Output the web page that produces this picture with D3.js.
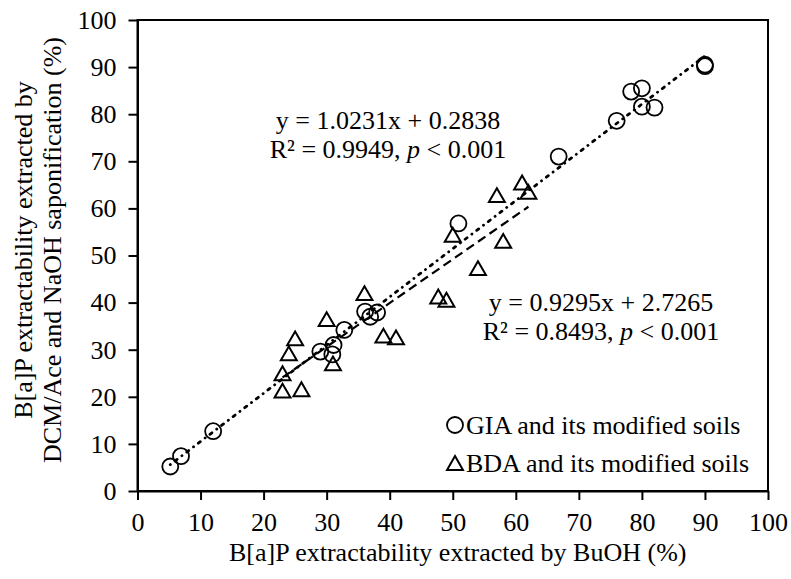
<!DOCTYPE html>
<html>
<head>
<meta charset="utf-8">
<script src="https://cdn.jsdelivr.net/npm/d3@7"></script>
<style>
  body { margin: 0; background: #fff; }
  svg { display: block; font-family: "Liberation Serif", "Times New Roman", serif; }
  .axis path, .axis line { stroke: #000; stroke-width: 2; }
  .axis text { font-size: 26px; fill: #000; font-family: "Liberation Serif", serif; }
  .label { font-size: 26px; fill: #000; }
</style>
</head>
<body>
<div id="wrapper"></div>
<script>
// data
const giaBuOH = [5.2, 6.9, 12, 29, 30.9, 31.1, 32.8, 36.1, 36.9, 38, 50.9, 66.8, 76, 78.3, 80, 80, 82, 90, 90];
const giaDCM = [5.2, 7.4, 12.7, 29.6, 29, 31, 34.2, 38.1, 37, 37.9, 56.8, 71, 78.6, 84.8, 85.5, 81.6, 81.4, 90.2, 90.5];
const bdaBuOH = [23, 23, 24, 25, 26, 30, 31, 36, 39, 41, 47.7, 49, 50, 54, 57, 58, 61, 62];
const bdaDCM = [21.3, 25, 29.2, 32.4, 21.6, 36.5, 27.1, 42, 33, 32.6, 41.3, 40.6, 54.4, 47.3, 62.8, 53.1, 65.5, 63.5];
const giaFit = [1.0231, 0.2838];
const bdaFit = [0.9295, 2.7265];
const ticks = [0, 10, 20, 30, 40, 50, 60, 70, 80, 90, 100];
const legendLabels = ['GIA and its modified soils', 'BDA and its modified soils'];

const dimensions = {
  width: 791,
  height: 579,
  margin: { top: 20, right: 23, bottom: 88, left: 137.5 },
};

const svg = d3.select('#wrapper').append('svg')
  .attr('width', dimensions.width)
  .attr('height', dimensions.height);

const xScale = d3.scaleLinear().domain([0, 100])
  .range([dimensions.margin.left, dimensions.width - dimensions.margin.right]);
const yScale = d3.scaleLinear().domain([0, 100])
  .range([dimensions.height - dimensions.margin.bottom, dimensions.margin.top]);

// axes
svg.append('g')
  .attr('class', 'axis')
  .attr('transform', `translate(0,${yScale(0)})`)
  .call(d3.axisBottom(xScale).tickValues(ticks).tickSize(9).tickSizeOuter(0).tickPadding(12.5));

svg.append('g')
  .attr('class', 'axis')
  .attr('transform', `translate(${xScale(0)},0)`)
  .call(d3.axisLeft(yScale).tickValues(ticks).tickSize(9).tickSizeOuter(0).tickPadding(12));

// frame
svg.append('rect')
  .attr('x', xScale(0))
  .attr('y', yScale(100))
  .attr('width', xScale(100) - xScale(0))
  .attr('height', yScale(0) - yScale(100))
  .attr('fill', 'none')
  .attr('stroke', '#000')
  .attr('stroke-width', 2);

// trend lines
const line = d3.line().x((d) => xScale(d[0])).y((d) => yScale(d[1]));
const fitPoints = (xs, fit) => d3.extent(xs).map((v) => [v, fit[0] * v + fit[1]]);

svg.append('path')
  .attr('d', line(fitPoints(bdaBuOH, bdaFit)))
  .attr('fill', 'none')
  .attr('stroke', '#000')
  .attr('stroke-width', 2.2)
  .attr('stroke-dasharray', '9 5');

svg.append('path')
  .attr('d', line(fitPoints(giaBuOH, giaFit)))
  .attr('fill', 'none')
  .attr('stroke', '#000')
  .attr('stroke-width', 2.8)
  .attr('stroke-linecap', 'round')
  .attr('stroke-dasharray', '0.1 6 2.5 6');

// markers
const triSize = 110;
const triK = Math.sqrt(triSize / (3 * Math.sqrt(3)));
const triangle = d3.symbol().type(d3.symbolTriangle).size(triSize);

svg.append('g')
  .selectAll('path')
  .data(d3.zip(bdaBuOH, bdaDCM))
  .join('path')
  .attr('d', triangle)
  .attr('transform', (d) => `translate(${xScale(d[0])},${yScale(d[1]) + triK / 2})`)
  .attr('fill', 'none')
  .attr('stroke', '#000')
  .attr('stroke-width', 2);

svg.append('g')
  .selectAll('circle')
  .data(d3.zip(giaBuOH, giaDCM))
  .join('circle')
  .attr('cx', (d) => xScale(d[0]))
  .attr('cy', (d) => yScale(d[1]))
  .attr('r', 8)
  .attr('fill', 'none')
  .attr('stroke', '#000')
  .attr('stroke-width', 1.8);

// equations
const drawEquation = (cx, y, fit, r2) => {
  svg.append('text').attr('class', 'label')
    .attr('x', cx).attr('y', y).attr('text-anchor', 'middle')
    .text(`y = ${fit[0]}x + ${fit[1]}`);
  const t = svg.append('text').attr('class', 'label')
    .attr('x', cx).attr('y', y + 29).attr('text-anchor', 'middle');
  t.append('tspan').text(`R² = ${r2}, `);
  t.append('tspan').attr('font-style', 'italic').text('p');
  t.append('tspan').text(' < 0.001');
};
drawEquation(388, 129, giaFit, '0.9949');
drawEquation(601, 311, bdaFit, '0.8493');

// legend
const legend = svg.append('g');
legend.append('circle')
  .attr('cx', 455).attr('cy', 425).attr('r', 8)
  .attr('fill', 'none').attr('stroke', '#000').attr('stroke-width', 1.8);
legend.append('path')
  .attr('d', triangle)
  .attr('transform', `translate(455,${463 + triK / 2})`)
  .attr('fill', 'none').attr('stroke', '#000').attr('stroke-width', 2);
legendLabels.forEach((label, i) => {
  legend.append('text').attr('class', 'label')
    .attr('x', 466).attr('y', 434 + i * 38)
    .text(label);
});

// axis titles
svg.append('text').attr('class', 'label')
  .attr('x', (xScale(0) + xScale(100)) / 2 + 5)
  .attr('y', 561)
  .attr('text-anchor', 'middle')
  .text('B[a]P extractability extracted by BuOH (%)');

const yTitle = svg.append('text').attr('class', 'label')
  .attr('transform', 'translate(0,250) rotate(-90)')
  .attr('text-anchor', 'middle');
yTitle.append('tspan').attr('x', 0).attr('y', 32).text('B[a]P extractability extracted by');
yTitle.append('tspan').attr('x', 0).attr('y', 61).text('DCM/Ace and NaOH saponification (%)');
</script>
</body>
</html>
